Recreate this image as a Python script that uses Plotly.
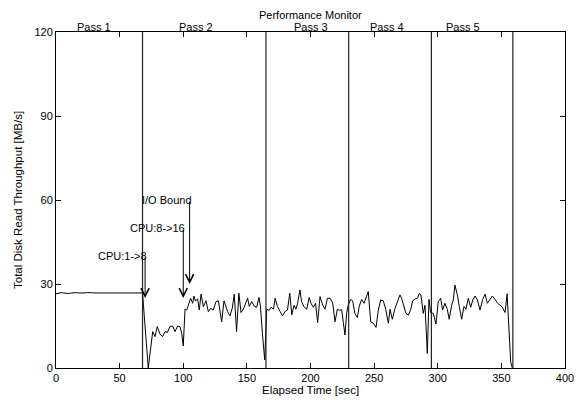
import plotly.graph_objects as go

# ---- data ----
flat_t = list(range(0, 70, 2))
flat_v = [26.5, 26.7, 26.9, 26.8, 26.6, 26.6, 26.8, 26.9, 26.9, 26.8, 26.7, 26.8,
          26.9, 27.0, 26.9, 26.8, 26.8, 26.9, 26.9, 26.8, 26.8, 26.9, 27.0, 26.9,
          26.8, 26.8, 26.9, 27.0, 26.9, 26.8, 26.8, 26.9, 27.0, 26.9, 26.8]

rest_t = [72.5, 76, 77.8, 79.6, 81.7, 83.8, 85.7, 87.5, 89.6, 91.7, 93.5, 95.6, 97.4, 98.8,
          100, 101.4, 102.7, 104.2, 105.8, 107.4, 108.4, 109.6, 111.3, 112.6, 114, 115.8,
          117.9, 119.7, 121.5, 123.6, 125.7, 127.6, 130.2, 132, 134.9, 136.7, 138.5, 140.1,
          141.9, 143.7, 145.4, 147.2, 149.1, 150.6, 151.9, 153.8, 155.9, 157.7, 159.5, 160.6,
          162.2, 164, 165.6, 167.5, 169, 170.9, 172.2, 174, 176.1, 178, 180, 181.9, 183.7,
          185.3, 187.1, 188.5, 189.9, 191.7, 193, 195.1, 197, 199, 200.4, 202.2, 204, 205.6,
          207.5, 209.6, 211.4, 213.3, 215.4, 217.4, 219.3, 221.1, 222.6, 224.5, 225.8, 227.1,
          228.4, 229.7, 231.6, 233.1, 234.9, 236.8, 238.3, 240.2, 242, 244.1, 245.4, 247.3,
          249.4, 251.5, 253.3, 255.2, 257.2, 259.1, 261.2, 262.5, 264.3, 266.4, 268.2, 270.3,
          271.6, 273.5, 275, 276.9, 278.8, 280.3, 282.2, 284, 285.5, 286.8, 288.6, 290, 291.8,
          293.1, 294.4, 296.5, 298.6, 300.4, 302.3, 303.8, 305.6, 307.5, 309, 310.9, 312.2,
          313.5, 315.4, 316.9, 318.8, 320.6, 322.2, 324, 325.9, 327.5, 329.3, 331.2, 333.2,
          335.3, 337.2, 339, 341.1, 342.9, 345, 347.1, 349, 350.8, 352.9, 354.5, 357.3, 358.6]
rest_v = [0, 13, 11.2, 14.8, 12.1, 11.2, 13, 12.7, 14.8, 15, 13, 15, 14.8, 12.4,
          7.9, 21, 20.7, 23, 24.9, 23.1, 25.7, 23.9, 24.7, 20.7, 26.4, 21.9,
          24, 20.1, 21.3, 20.7, 23.7, 24, 16.5, 24, 20.1, 18.6, 21.3, 26.4,
          13, 26.7, 19.8, 21, 23.1, 24.9, 22, 23.7, 22, 21.7, 25.2, 22.4,
          12.4, 2.9, 21, 20.6, 21.7, 21, 24.9, 22, 20.2, 18.6, 20.2, 20.7, 26.7,
          19, 22.4, 21, 23.1, 27.9, 23.7, 21.7, 21, 25.2, 23.1, 21.7, 23.1, 16.2,
          25.5, 22.4, 21, 24.9, 24.9, 23.3, 16.5, 21, 20.6, 20.8, 16.2, 11.8,
          19.5, 22.6, 24.5, 24, 19.5, 18, 22, 24.5, 23.1, 26.1, 27.3, 16.5,
          16, 14.5, 20.7, 24.3, 24, 21, 16, 21, 17.4, 21.3, 23.3, 26.1,
          24.9, 21.7, 19.5, 18.9, 21, 24, 24.7, 24.9, 26.6, 26.1, 19.5, 22.4, 5.2,
          24.5, 19.8, 19.5, 15.7, 23.7, 24.9, 20.7, 23.1, 21, 17.4, 22.4, 24.3,
          29.6, 26.1, 22, 17.4, 22, 21, 24.9, 21.7, 24.3, 25.7, 24.3, 20.7,
          24.5, 26.4, 23.1, 24.5, 25.7, 24.5, 23.1, 22.4, 21.7, 19.8, 26.5, 2.3, 0]

time = flat_t + rest_t
throughput = flat_v + rest_v

pass_bounds = [68, 165, 230, 295, 359]
pass_names = ["Pass 1", "Pass 2", "Pass 3", "Pass 4", "Pass 5"]
pass_label_x = [30, 110, 200, 260, 320]

event_names = ["CPU:1->8", "CPU:8->16", "I/O Bound"]
event_x = [70, 100, 105]
event_from = [40, 50, 60]
event_to = [25, 25, 30]

x_ticks = list(range(0, 401, 50))
y_ticks = [0, 30, 60, 90, 120]

FONT = "Liberation Sans, Arial, sans-serif"

fig = go.Figure()
fig.add_trace(go.Scatter(x=time, y=throughput, mode="lines",
                         line=dict(color="black", width=1), showlegend=False,
                         hoverinfo="skip"))

shapes = []
for b in pass_bounds:
    shapes.append(dict(type="line", xref="x", yref="y", x0=b, x1=b, y0=0, y1=120,
                       line=dict(color="#222222", width=1.2)))

annotations = []
for name, px in zip(pass_names, pass_label_x):
    annotations.append(dict(x=px, y=1, xref="x", yref="paper", text=name,
                            showarrow=False, yanchor="bottom", yshift=-3,
                            font=dict(family=FONT, size=11, color="black")))
annotations.append(dict(x=0.5, y=1, xref="paper", yref="paper", text="Performance Monitor",
                        showarrow=False, yanchor="bottom", yshift=9,
                        font=dict(family=FONT, size=11, color="black")))
annotations.append(dict(x=0.5, y=0, xref="paper", yref="paper", text="Elapsed Time [sec]",
                        showarrow=False, yanchor="top", yshift=-14,
                        font=dict(family=FONT, size=11.5, color="black")))
annotations.append(dict(x=0, y=0.5, xref="paper", yref="paper",
                        text="Total Disk Read Throughput [MB/s]", textangle=-90,
                        showarrow=False, xanchor="right", xshift=-30,
                        font=dict(family=FONT, size=11.5, color="black")))
for name, ex, y0, y1 in zip(event_names, event_x, event_from, event_to):
    annotations.append(dict(x=ex, y=y1, ax=ex, ay=y0, xref="x", yref="y",
                            axref="x", ayref="y", text="", showarrow=True,
                            arrowhead=5, arrowsize=1.6, arrowwidth=1,
                            arrowcolor="black", standoff=0, startstandoff=0))
    annotations.append(dict(x=ex, y=y0, xref="x", yref="y", text=name,
                            showarrow=False, xanchor="right", xshift=4,
                            font=dict(family=FONT, size=11, color="black")))

fig.update_layout(
    width=579, height=402,
    margin=dict(l=56, r=14, t=32, b=34),
    plot_bgcolor="white", paper_bgcolor="white",
    font=dict(family=FONT, size=11, color="black"),
    shapes=shapes, annotations=annotations,
    xaxis=dict(range=[0, 400], tickvals=x_ticks, ticks="inside", automargin=False,
               ticklen=5, tickcolor="black", showline=True, linecolor="black",
               linewidth=1, mirror="allticks", showgrid=False, zeroline=False),
    yaxis=dict(range=[0, 120], tickvals=y_ticks, ticks="inside", automargin=False,
               ticklen=5, tickcolor="black", showline=True, linecolor="black",
               linewidth=1, mirror="allticks", showgrid=False, zeroline=False),
)

fig.write_html("out.html")
